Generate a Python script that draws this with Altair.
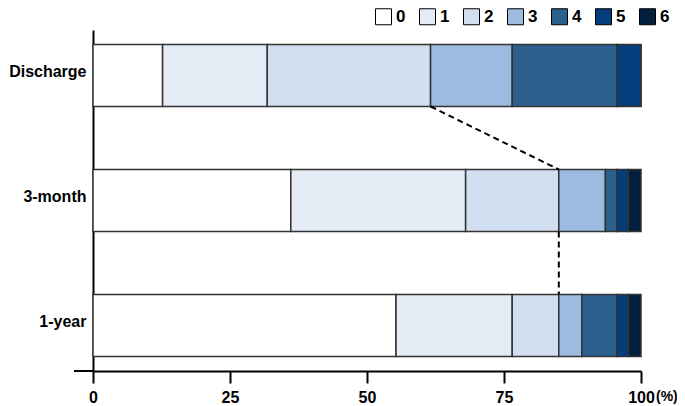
import altair as alt
import pandas as pd

categories = ["Discharge", "3-month", "1-year"]
levels = ["0", "1", "2", "3", "4", "5", "6"]
discharge = [12.7, 19.1, 29.8, 14.9, 19.1, 4.4, 0.0]
month3 = [36.1, 31.9, 17.0, 8.5, 2.1, 2.1, 2.3]
year1 = [55.3, 21.2, 8.5, 4.2, 6.4, 2.1, 2.3]
colors = ["#ffffff", "#e3ebf5", "#d2dff0", "#9dbae0", "#2c5e8e", "#033d7b", "#02203d"]
x_ticks = [0, 25, 50, 75, 100]
unit_label = ["(%)"]

FONT = "Liberation Sans, Arial, sans-serif"

rows = []
for cat, vals in zip(categories, [discharge, month3, year1]):
    for i, (lv, v) in enumerate(zip(levels, vals)):
        rows.append({"group": cat, "level": lv, "ord": i, "pct": v})
df = pd.DataFrame(rows)

# dashed connectors at the cumulative share of levels 0-2
series = [discharge, month3, year1]
cum = [round(sum(v[:3]), 2) for v in series]
conn = pd.DataFrame({
    "from": categories[:-1],
    "to": categories[1:],
    "x1": cum[:-1],
    "x2": cum[1:],
})

yscale = alt.Scale(domain=categories, paddingInner=0.504, paddingOuter=0.116)
xscale = alt.Scale(domain=[0, 100], nice=False)

bars = alt.Chart(df).mark_bar(stroke="#333333", strokeWidth=1.5).encode(
    x=alt.X("pct:Q", stack="zero", scale=xscale,
            axis=alt.Axis(values=x_ticks, title=None, grid=False,
                          domainColor="black", domainWidth=2,
                          tickColor="black", tickWidth=2, tickSize=12,
                          labelFont=FONT, labelFontSize=16, labelFontWeight="bold",
                          labelColor="black", labelPadding=6, labelFlush=False)),
    y=alt.Y("group:N", scale=yscale, sort=categories,
            axis=alt.Axis(title=None, ticks=False, domainColor="black", domainWidth=2,
                          labelFont=FONT, labelFontSize=16, labelFontWeight="bold",
                          labelColor="black", labelPadding=7, labelOffset=-4)),
    fill=alt.Fill("level:N", scale=alt.Scale(domain=levels, range=colors),
                  legend=alt.Legend(orient="none", legendX=282, legendY=-22,
                                    direction="horizontal", title=None,
                                    symbolType="square", symbolSize=256,
                                    symbolStrokeColor="black", symbolStrokeWidth=1,
                                    symbolOpacity=1,
                                    labelFont=FONT, labelFontSize=17,
                                    labelFontWeight="bold", labelColor="black",
                                    labelOffset=4, columnPadding=11, padding=0)),
    order=alt.Order("ord:Q", sort="ascending"),
)

connectors = alt.Chart(conn).mark_rule(color="black", strokeWidth=2, strokeDash=[6, 4]).encode(
    x=alt.X("x1:Q", scale=xscale),
    x2="x2:Q",
    y=alt.Y("from:N", scale=yscale, sort=categories, bandPosition=1),
    y2=alt.Y2("to:N", bandPosition=0),
)

unit = alt.Chart(pd.DataFrame({"t": unit_label, "x": [100]})).mark_text(
    align="left", baseline="middle", dx=15, font=FONT, fontSize=14,
    fontWeight="bold", color="black"
).encode(x=alt.X("x:Q", scale=xscale), y=alt.value(367), text="t:N")

axis_ext = alt.Chart(pd.DataFrame({"a": [0]})).mark_rule(color="black", strokeWidth=2).encode(
    x=alt.value(-19), x2=alt.value(0), y=alt.value(341)
)

chart = alt.layer(bars, connectors, unit, axis_ext).properties(
    width=548, height=341,
    autosize=alt.AutoSizeParams(type="none"),
    padding={"left": 85, "top": 22, "right": 36, "bottom": 33},
).configure_view(stroke=None)

chart.save("out.html", embed_options={"renderer": "svg", "actions": False})
